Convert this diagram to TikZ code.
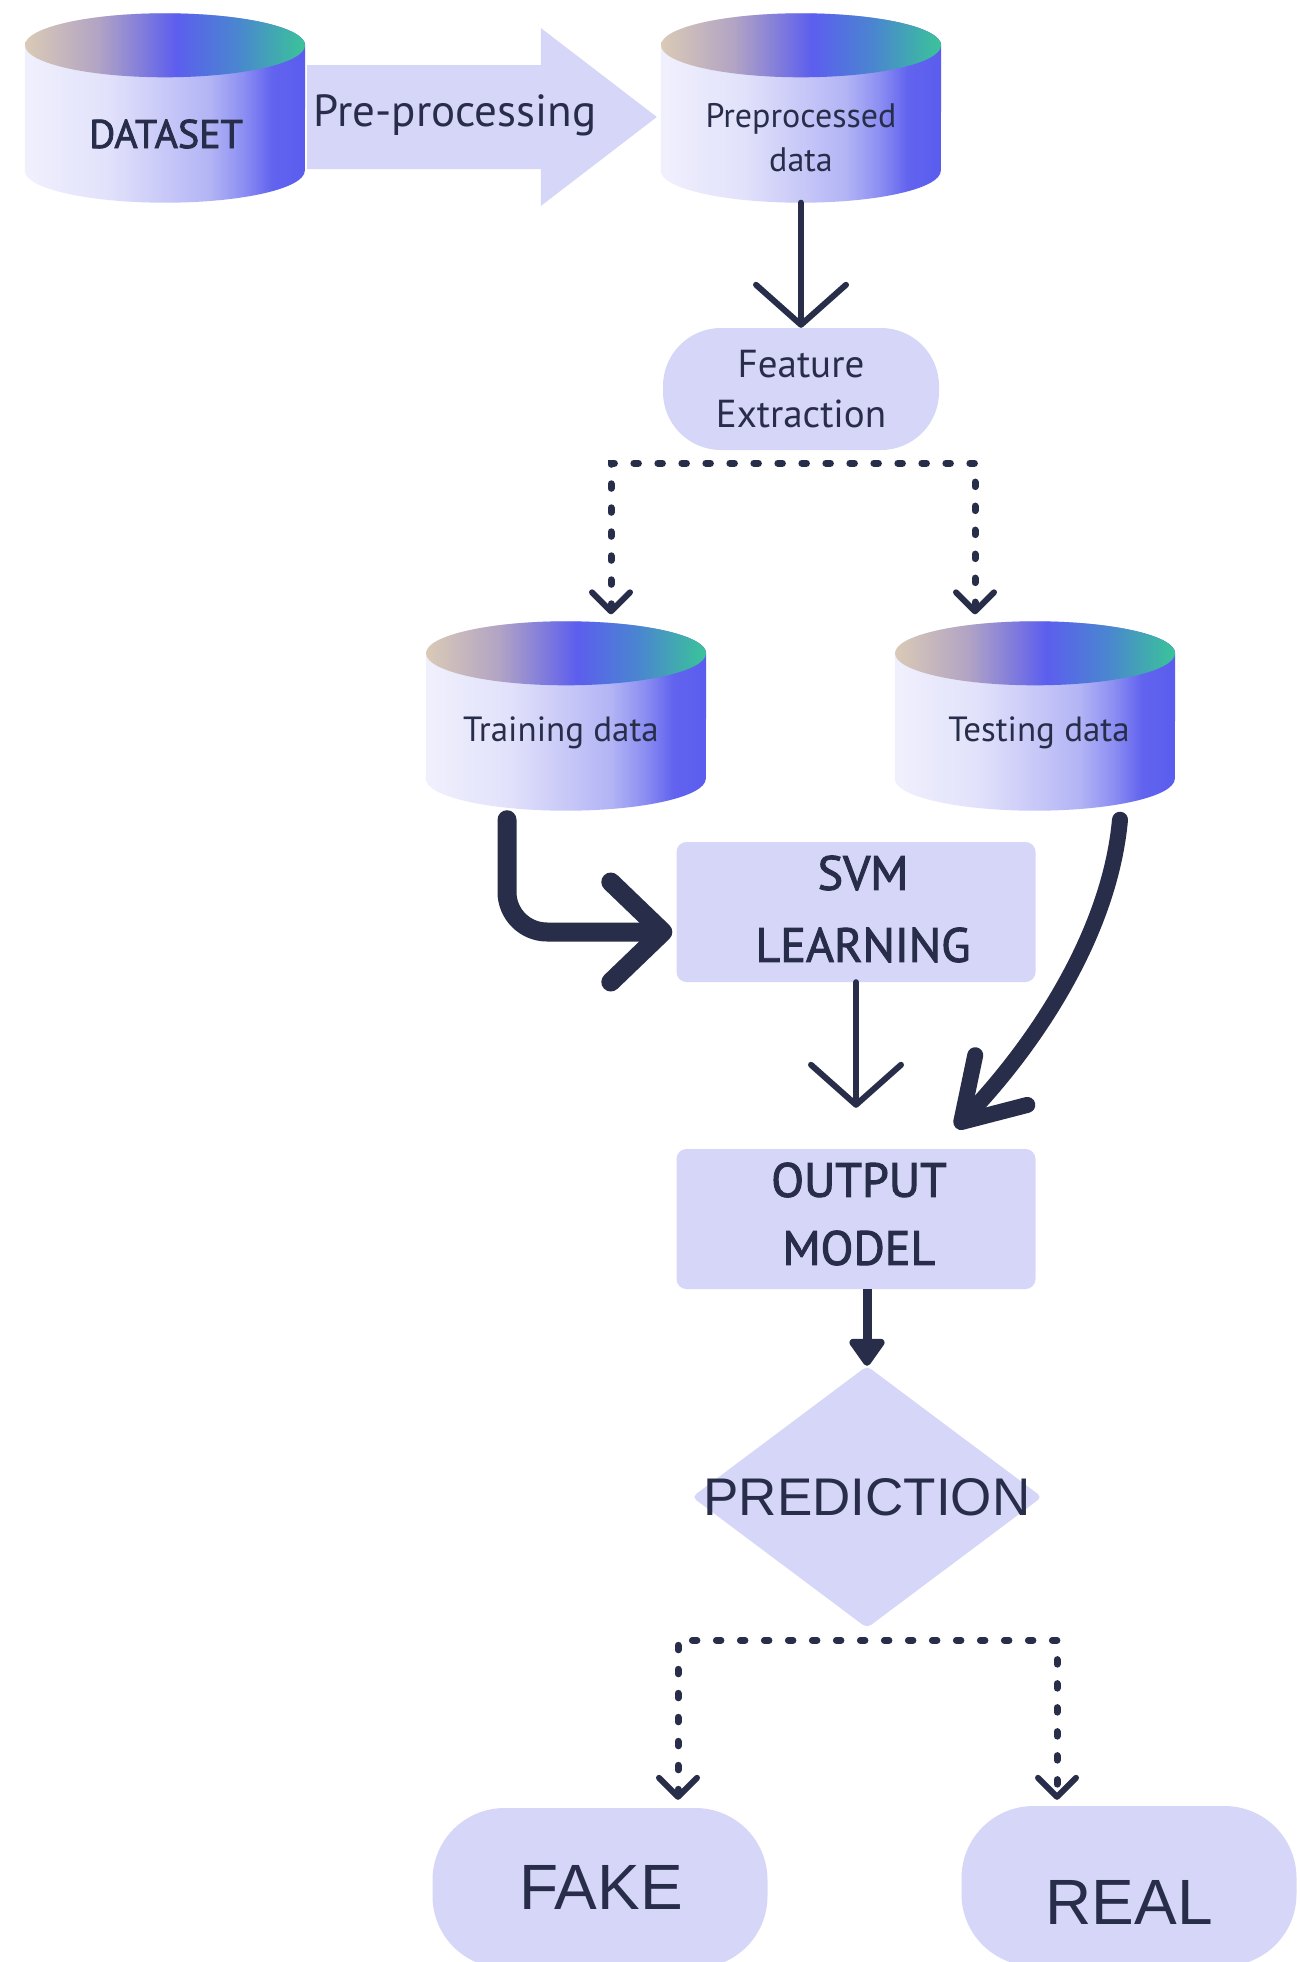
\documentclass[tikz,border=0pt]{standalone}
\usepackage{fontspec}
\setmainfont{PT Sans}
\newfontfamily\medfont[FakeBold=2]{PT Sans}
\newfontfamily\arialfont{Liberation Sans}
\usetikzlibrary{arrows.meta,shapes.geometric,calc}

\definecolor{lav}{RGB}{214,214,248}
\definecolor{ink}{RGB}{40,46,74}
% top face of the drums
\definecolor{cA}{RGB}{218,202,182}
\definecolor{cB}{RGB}{178,164,196}
\definecolor{cC}{RGB}{92,94,238}
\definecolor{cD}{RGB}{74,134,208}
\definecolor{cE}{RGB}{58,196,152}
% side of the drums
\definecolor{bA}{RGB}{240,240,253}
\definecolor{bB}{RGB}{225,225,251}
\definecolor{bC}{RGB}{200,200,248}
\definecolor{bD}{RGB}{178,180,245}
\definecolor{bE}{RGB}{140,142,242}
\definecolor{bF}{RGB}{98,100,239}
\definecolor{bG}{RGB}{90,92,238}

\pgfdeclarehorizontalshading{cyltop}{100bp}{color(0bp)=(cA); color(25bp)=(cA); color(38bp)=(cB); color(52bp)=(cC); color(63bp)=(cD); color(75bp)=(cE); color(100bp)=(cE)}
\pgfdeclarehorizontalshading{cylbody}{100bp}{color(0bp)=(bA); color(25bp)=(bA); color(40bp)=(bB); color(50bp)=(bC); color(58bp)=(bD); color(64bp)=(bE); color(69bp)=(bF); color(75bp)=(bG); color(100bp)=(bG)}

\newcommand\fsz[2]{\fontsize{#1}{#2}\selectfont}

% database drum: name, centre
\newcommand\dbdrum[2]{%
  \node[drumbox] (#1) at (#2) {};
  \shade[shading=cylbody] ($(#1.north west)+(0,-32)$) -- ($(#1.south west)+(0,32)$)
     arc[start angle=180, end angle=360, x radius=140, y radius=32]
     -- ($(#1.north east)+(0,-32)$)
     arc[start angle=0, end angle=180, x radius=140, y radius=32] -- cycle;
  \shade[shading=cyltop] ($(#1.north)+(0,-32)$) ellipse[x radius=140, y radius=32];
}

\tikzset{
  drumbox/.style={draw=none, minimum width=280pt, minimum height=189pt, inner sep=0pt},
  lbl/.style={text=ink, align=center, inner sep=0pt},
  box/.style={fill=lav, draw=none, rounded corners=10pt, minimum width=359pt,
    minimum height=140pt, inner sep=0pt},
  pill/.style={fill=lav, draw=none, inner sep=0pt, align=center, text=ink},
  thinarr/.style={draw=ink, line width=6pt, line cap=round,
    -{Straight Barb[length=40pt, width=90pt, line width=6pt, round]}},
  dotarr/.style={draw=ink, line width=7pt, line cap=round, dash pattern=on 4.5pt off 19.5pt,
    {Straight Barb[length=19pt, width=38pt, line width=6pt, round]}-{Straight Barb[length=19pt, width=38pt, line width=6pt, round]}},
  bigarr/.style={draw=ink, line width=19pt, line cap=round,
    -{Straight Barb[length=52pt, width=100pt, line width=19pt, round]}},
  curvarr/.style={draw=ink, line width=16pt, line cap=round,
    -{Straight Barb[length=58pt, width=72pt, line width=16pt, round]}},
  solidarr/.style={draw=ink, line width=9pt,
    -{Triangle[length=30pt, width=40pt, round]}},
}

\begin{document}
\begin{tikzpicture}[x=1pt, y=1pt]
\useasboundingbox (0,0) rectangle (1299,-1962);
\fill[white] (0,0) rectangle (1299,-1962);
\clip (0,0) rectangle (1299,-1962);

% drums
\dbdrum{ds}{165,-108}
\dbdrum{pp}{801,-108}
\dbdrum{tr}{566,-716}
\dbdrum{te}{1035,-716}

\node[lbl, font=\medfont\fsz{40}{46}] at (166,-134) {DATASET};
\node[lbl, font=\fsz{34}{44}] at (801,-138) {Preprocessed\\data};
\node[lbl, font=\fsz{35}{40}] at (561,-733) {Training data};
\node[lbl, font=\fsz{35}{40}] at (1039,-733) {Testing data};

% block arrow between the first two drums
\coordinate (pa) at ($(ds.east)+(2,-9)$);
\coordinate (pb) at ($(pp.west)+(-4,-9)$);
\fill[lav] ($(pa)+(0,52)$) -- ($(pb)+(-116,52)$) -- ($(pb)+(-116,89)$) -- (pb)
  -- ($(pb)+(-116,-89)$) -- ($(pb)+(-116,-52)$) -- ($(pa)+(0,-52)$) -- cycle;
\node[lbl, font=\fsz{45}{50}] (ppl) at (455,-115) {Pre-processing};

% process boxes
\node[pill, minimum width=276pt, minimum height=122pt, rounded corners=58pt,
  font=\fsz{39}{50}] (feat) at (801,-389) {Feature\\Extraction};
\node[box] (svm) at (856,-912) {};
\node[lbl, font=\medfont\fsz{48}{72}] at ($(svm.center)+(7,3)$) {SVM\\LEARNING};
\node[box] (out) at (856,-1219) {};
\node[lbl, font=\medfont\fsz{48}{68}] at ($(out.center)+(3,5)$) {OUTPUT\\MODEL};
\node[diamond, fill=lav, draw=none, minimum width=350pt, minimum height=262pt,
  inner sep=0pt, rounded corners=5pt] (pred) at (867,-1497) {};
\node[lbl, font=\arialfont\fsz{53}{60}] at (pred.center) {PREDICTION};
\node[pill, minimum width=335pt, minimum height=160pt, rounded corners=72pt] (fake) at (600,-1888) {};
\node[pill, minimum width=335pt, minimum height=160pt, rounded corners=72pt] (real) at (1129,-1886) {};
\node[lbl, font=\arialfont\fsz{64}{70}] at (601,-1887) {FAKE};
\node[lbl, font=\arialfont\fsz{64}{70}] at (1129,-1902) {REAL};

% connectors
\draw[thinarr] (pp.south) -- (feat.north);

\coordinate (fj) at ($(feat.south)+(-9,-13)$);
\draw[dotarr] ($(tr.north)+(45,7)$) |- (fj) -| ($(te.north)+(-60,7)$);

\draw[bigarr, rounded corners=40pt] ($(tr.south)+(-59,-9)$) |- ($(svm.west)+(-4,-20)$);
\draw[curvarr] ($(te.south)+(85,-9)$) .. controls +(-10,-110) and +(84,88) .. ($(out.north east)+(-80,21)$);
\draw[thinarr, shorten >=41pt] (svm.south) -- (out.north);
\draw[solidarr] (out.south -| pred.north) -- (pred.north);

\coordinate (pj) at ($(pred.south)+(0,-12)$);
\draw[dotarr] ($(fake.north)+(78,8)$) |- (pj) -| ($(real.north)+(-72,6)$);
\end{tikzpicture}
\end{document}
